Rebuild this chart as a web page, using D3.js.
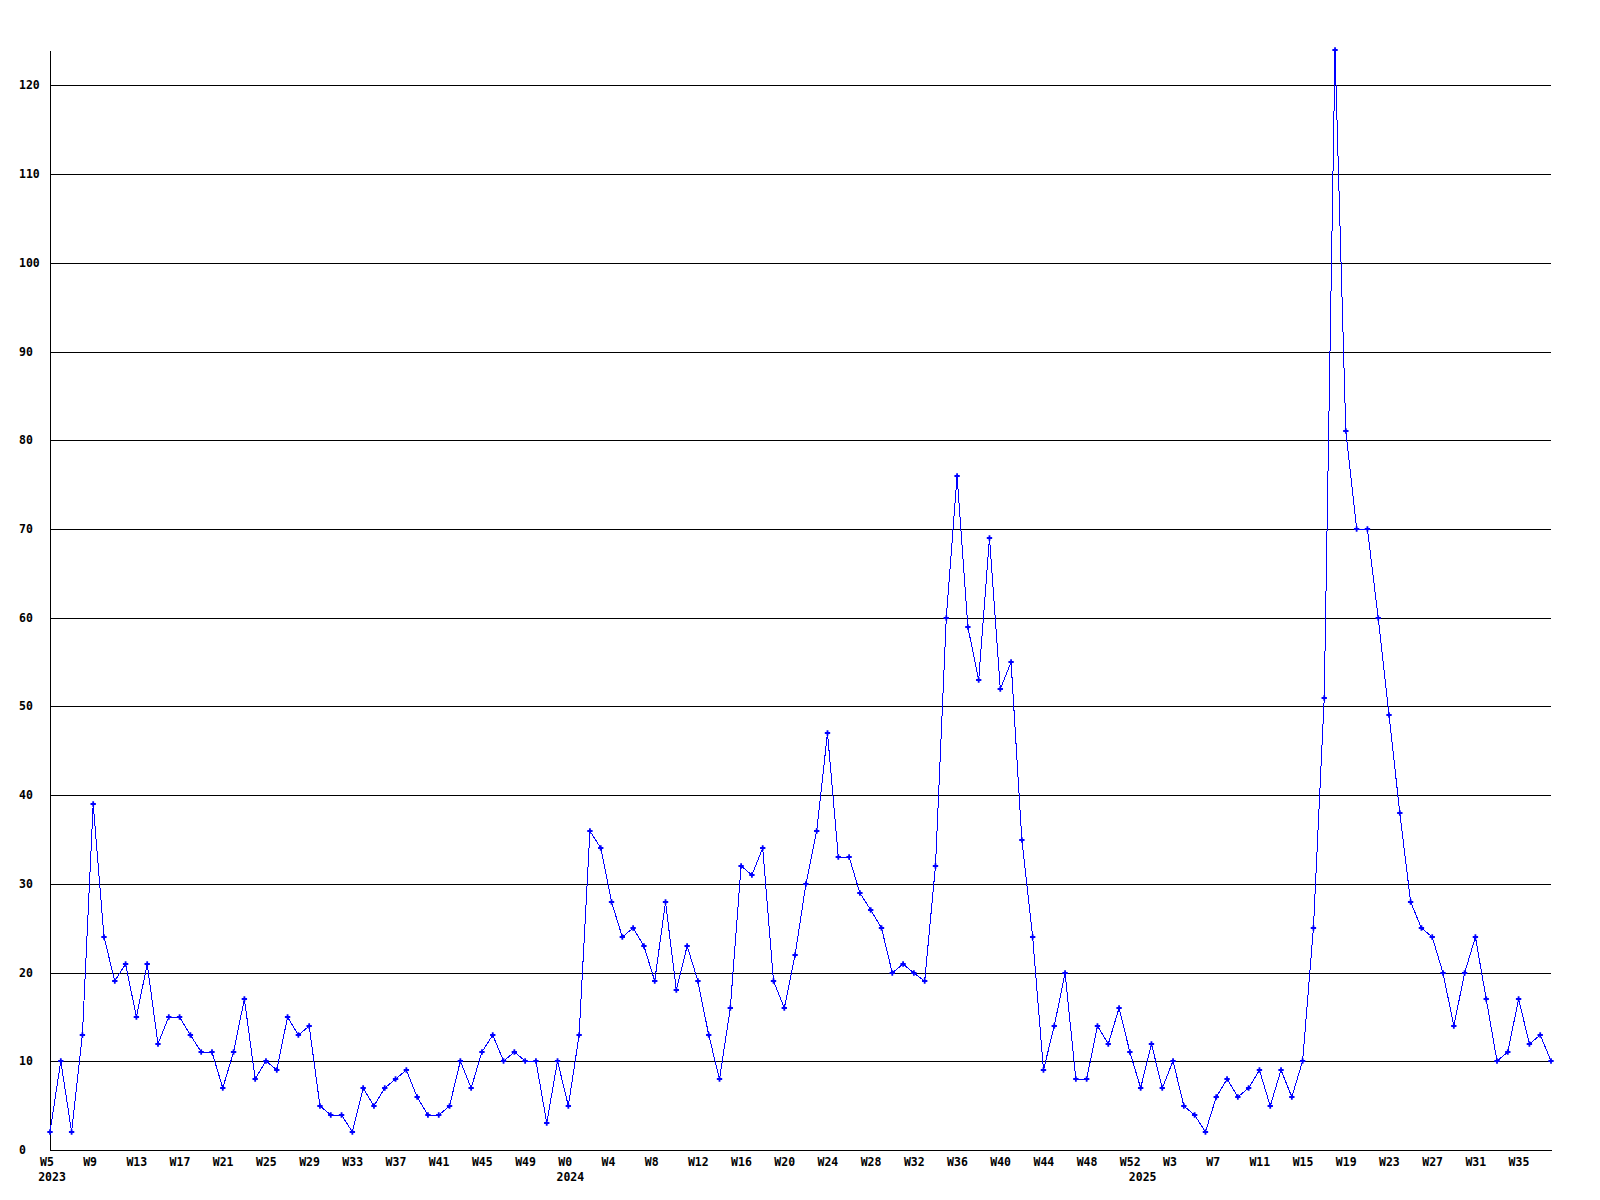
<!DOCTYPE html>
<html>
<head>
<meta charset="utf-8">
<script src="https://cdnjs.cloudflare.com/ajax/libs/d3/7.8.5/d3.min.js"></script>
<style>
    body { margin: 0; background: #fff; }
    svg text {
        font-family: "DejaVu Sans Mono", "Liberation Mono", monospace;
        font-weight: bold;
        font-size: 11.5px;
        fill: #000;
    }
</style>
</head>
<body>
<div id="chart"></div>
<script>
// weekly counts, one array per year, starting at the first week shown
const years = ['2023', '2024', '2025'];
const firstWeeks = [5, 0, 0];
const counts2023 = [2, 10, 2, 13, 39, 24, 19, 21, 15, 21, 12, 15, 15, 13, 11, 11, 7, 11, 17, 8,
    10, 9, 15, 13, 14, 5, 4, 4, 2, 7, 5, 7, 8, 9, 6, 4, 4, 5, 10, 7, 11, 13, 10, 11, 10, 10, 3, 10];
const counts2024 = [5, 13, 36, 34, 28, 24, 25, 23, 19, 28, 18, 23, 19, 13, 8, 16, 32, 31, 34, 19,
    16, 22, 30, 36, 47, 33, 33, 29, 27, 25, 20, 21, 20, 19, 32, 60, 76, 59, 53, 69, 52, 55, 35, 24,
    9, 14, 20, 8, 8, 14, 12, 16, 11];
const counts2025 = [7, 12, 7, 10, 5, 4, 2, 6, 8, 6, 7, 9, 5, 9, 6, 10, 25, 51, 124, 81, 70, 70,
    60, 49, 38, 28, 25, 24, 20, 14, 20, 24, 17, 10, 11, 17, 12, 13, 10];
const yTicks = [0, 10, 20, 30, 40, 50, 60, 70, 80, 90, 100, 110, 120];
const labelEvery = 4;

const width = 1600;
const height = 1200;
const margin = { top: 50, right: 49, bottom: 50, left: 50 };

// flatten into one list of weeks
const points = [];
const yearStarts = [];
[counts2023, counts2024, counts2025].forEach((counts, y) => {
    yearStarts.push({ year: years[y], index: points.length });
    counts.forEach((value, i) => {
        points.push({ year: years[y], week: firstWeeks[y] + i, value });
    });
});

const svg = d3
    .select('#chart')
    .append('svg')
    .attr('width', width)
    .attr('height', height);

svg.append('rect').attr('width', width).attr('height', height).attr('fill', '#fff');

const xScale = d3
    .scaleLinear()
    .domain([0, points.length - 1])
    .range([margin.left, width - margin.right]);
const yScale = d3
    .scaleLinear()
    .domain([0, d3.max(points, (d) => d.value)])
    .range([height - margin.bottom, margin.top])
    .interpolate(d3.interpolateRound);

const plotWidth = width - margin.right - margin.left;

// y axis with full-width grid lines
const yAxis = d3
    .axisLeft(yScale)
    .tickValues(yTicks)
    .tickSizeInner(-plotWidth)
    .tickSizeOuter(0)
    .tickPadding(0);
const yAxisG = svg
    .append('g')
    .attr('transform', `translate(${margin.left}, 0)`)
    .call(yAxis);
yAxisG.selectAll('line').attr('shape-rendering', 'crispEdges');
yAxisG.select('.domain').attr('shape-rendering', 'crispEdges');
yAxisG
    .selectAll('text')
    .attr('text-anchor', 'start')
    .attr('x', 19 - margin.left);

// x axis: every 4th week labelled
const xAxis = d3
    .axisBottom(xScale)
    .tickValues(d3.range(0, points.length, labelEvery))
    .tickSize(0)
    .tickPadding(8)
    .tickFormat((i) => 'W' + points[i].week);
const xAxisG = svg
    .append('g')
    .attr('transform', `translate(0, ${height - margin.bottom})`)
    .call(xAxis);
xAxisG.select('.domain').attr('shape-rendering', 'crispEdges');
xAxisG.selectAll('text').attr('text-anchor', 'start').attr('x', -10.5);

// year labels under the first week of each year
svg.append('g')
    .selectAll('text')
    .data(yearStarts)
    .join('text')
    .attr('x', (d) => xScale(d.index) + 2)
    .attr('y', height - margin.bottom + 31)
    .attr('text-anchor', 'middle')
    .text((d) => d.year);

// series line
const line = d3
    .line()
    .x((d, i) => xScale(i))
    .y((d) => yScale(d.value));
svg.append('path')
    .datum(points)
    .attr('d', line)
    .attr('fill', 'none')
    .attr('stroke', '#0000ff')
    .attr('stroke-width', 1)
    .attr('shape-rendering', 'crispEdges');

// markers
svg.append('g')
    .selectAll('path')
    .data(points)
    .join('path')
    .attr('transform', (d, i) => `translate(${xScale(i)}, ${yScale(d.value)})`)
    .attr('d', d3.symbol(d3.symbolCross, 16))
    .attr('fill', '#0000ff');
</script>
</body>
</html>
